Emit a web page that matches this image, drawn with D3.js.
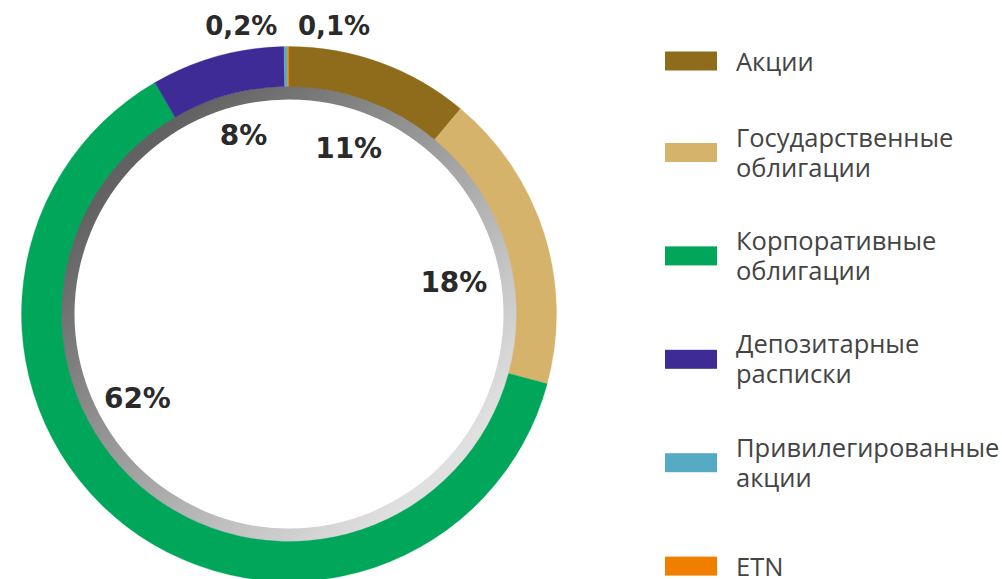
<!DOCTYPE html>
<html>
<head>
<meta charset="utf-8">
<script src="https://cdn.jsdelivr.net/npm/d3@7"></script>
<style>
  html, body { margin: 0; padding: 0; background: #fff; overflow: hidden; }
  svg { display: block; }
</style>
</head>
<body>
<svg id="chart" width="1002" height="579"></svg>
<script>
// ---- data ----
const categories = [
  "Акции",
  "Государственные облигации",
  "Корпоративные облигации",
  "Депозитарные расписки",
  "Привилегированные акции",
  "ETN"
];
const shares = [11, 18, 62, 8, 0.2, 0.1];
const shareLabels = ["11%", "18%", "62%", "8%", "0,2%", "0,1%"];
const legendLines = [
  ["Акции"],
  ["Государственные", "облигации"],
  ["Корпоративные", "облигации"],
  ["Депозитарные", "расписки"],
  ["Привилегированные", "акции"],
  ["ETN"]
];

// ---- styles / layout ----
const colors = ["#8f6c1b", "#d5b36b", "#00a65a", "#3e2b95", "#56abc4", "#f07f00"];
const cx = 289, cy = 314;
const rOuter = 267.5, rInner = 227.5, rGrayIn = 214.5;
// label placement: radius from centre, then a nudge (baseline)
const labelLayout = [
  {r: 175, dx: 0,   dy: 8,   size: 28},
  {r: 175, dx: -2,  dy: 31,  size: 28},
  {r: 175, dx: -45, dy: -45, size: 28},
  {r: 175, dx: 1.5, dy: 0,   size: 28},
  {r: 290, dx: -44, dy: 11,  size: 26},
  {r: 290, dx: 46,  dy: 11,  size: 26}
];

const svg = d3.select("#chart");
const defs = svg.append("defs");
const grad = defs.append("linearGradient")
  .attr("id", "grayRing")
  .attr("gradientUnits", "userSpaceOnUse")
  .attr("x1", -152).attr("y1", -152)
  .attr("x2", 152).attr("y2", 152);
grad.append("stop").attr("offset", "0%").attr("stop-color", "#626262");
grad.append("stop").attr("offset", "100%").attr("stop-color", "#e0e0e0");

const g = svg.append("g").attr("transform", `translate(${cx},${cy})`);

// gray inner ring
g.append("path")
  .attr("d", d3.arc()({innerRadius: rGrayIn, outerRadius: rInner + 0.5, startAngle: 0, endAngle: 2 * Math.PI}))
  .attr("fill", "url(#grayRing)");

const pie = d3.pie().sort(null).value(d => d).startAngle(0).endAngle(2 * Math.PI);
const arcs = pie(shares);
const arc = d3.arc().innerRadius(rInner).outerRadius(rOuter);

g.selectAll("path.slice")
  .data(arcs)
  .join("path")
  .attr("class", "slice")
  .attr("d", arc)
  .attr("fill", (d, i) => colors[i])
  .attr("stroke", (d, i) => colors[i])
  .attr("stroke-width", 0.3);

// labels
g.selectAll("text.pct")
  .data(arcs)
  .join("text")
  .attr("class", "pct")
  .attr("x", (d, i) => {
    const a = (d.startAngle + d.endAngle) / 2;
    return labelLayout[i].r * Math.sin(a) + labelLayout[i].dx;
  })
  .attr("y", (d, i) => {
    const a = (d.startAngle + d.endAngle) / 2;
    return -labelLayout[i].r * Math.cos(a) + labelLayout[i].dy;
  })
  .attr("text-anchor", "middle")
  .attr("font-family", "DejaVu Sans, sans-serif")
  .attr("font-weight", "bold")
  .attr("font-size", (d, i) => labelLayout[i].size)
  .attr("fill", "#2a2a2a")
  .text((d, i) => shareLabels[i]);

// legend
const legendX = 665, swW = 52, swH = 19, textX = 736;
const centerY = i => i === 0 ? 61 : 152.5 + (i - 1) * 103.4;
const leg = svg.append("g");
const items = leg.selectAll("g.item")
  .data(categories)
  .join("g")
  .attr("class", "item")
  .attr("transform", (d, i) => `translate(0,${centerY(i)})`);

items.append("rect")
  .attr("x", legendX)
  .attr("y", -swH / 2)
  .attr("width", swW)
  .attr("height", swH)
  .attr("fill", (d, i) => colors[i]);

items.each(function(d, i) {
  const lines = legendLines[i];
  const t = d3.select(this).append("text")
    .attr("font-family", "Open Sans, sans-serif")
    .attr("font-size", 25.5)
    .attr("fill", "#444444");
  lines.forEach((ln, k) => {
    const base = lines.length === 1 ? 10 : -6 + k * 30;
    t.append("tspan").attr("x", textX).attr("y", base).text(ln);
  });
});
</script>
</body>
</html>
